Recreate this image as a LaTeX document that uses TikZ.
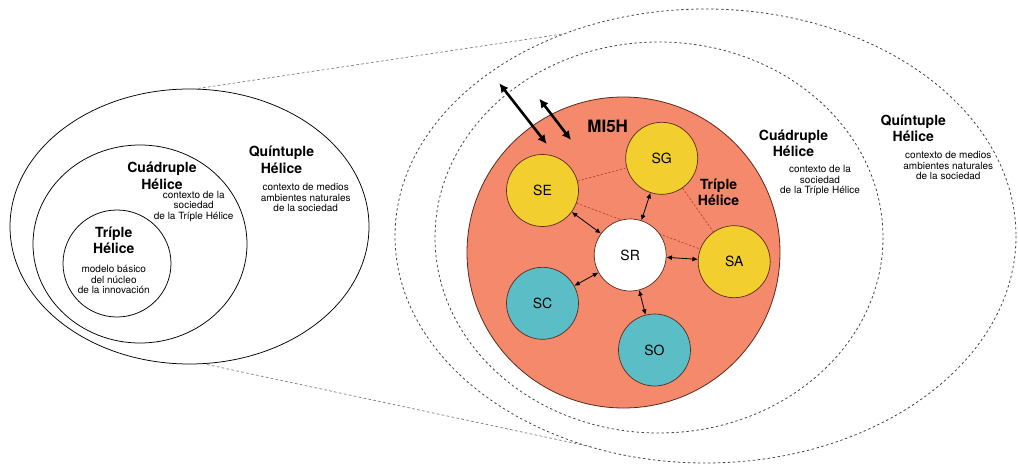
\documentclass[tikz,border=0pt]{standalone}
\usepackage{fontspec}
\setmainfont{TeX Gyre Heros}
\usetikzlibrary{arrows.meta}
\definecolor{mifill}{HTML}{F4896B}
\definecolor{miedge}{HTML}{5A2A1E}
\definecolor{helyellow}{HTML}{F2CF2E}
\definecolor{helteal}{HTML}{5BBEC6}
\definecolor{linkred}{HTML}{B03A2E}
\definecolor{dashgray}{HTML}{444444}
\definecolor{linkgray}{HTML}{7A7A7A}
\pgfdeclarelayer{back}
\pgfdeclarelayer{mid}
\pgfsetlayers{back,mid,main}
\tikzset{
  solidring/.style={draw=black, line width=0.75pt},
  dashring/.style={draw=dashgray, line width=0.8pt, dash pattern=on 2.4pt off 2.6pt},
  zoomline/.style={draw=linkgray, line width=0.7pt, dash pattern=on 2.6pt off 2.4pt},
  subsys/.style={circle, draw=miedge, line width=0.7pt, minimum size=72pt, inner sep=0pt,
    font=\fontsize{14}{16}\selectfont},
  title/.style={align=center, font=\fontsize{14}{16.5}\selectfont\bfseries, inner sep=0pt},
  note/.style={align=center, font=\fontsize{10}{10.5}\selectfont, inner sep=0pt},
  tie/.style={draw=linkred, line width=0.6pt, dash pattern=on 2.2pt off 1.8pt},
  link/.style={draw=black, line width=0.8pt, {Latex[length=5.5pt,width=5pt]}-{Latex[length=5.5pt,width=5pt]}},
  bigarrow/.style={draw=black, line width=2.6pt, {Latex[length=9pt,width=9pt]}-{Latex[length=9pt,width=9pt]}}
}
\begin{document}
\begin{tikzpicture}[x=1pt, y=-1pt]
\useasboundingbox (0,0) rectangle (1018,468);

% ---- nested helix model (left) ----
\draw[solidring] (189.5,226.5) ellipse [x radius=179.5, y radius=137.5];
\draw[solidring] (140,244) ellipse [x radius=107, y radius=99];
\draw[solidring] (117,263.5) ellipse [x radius=54, y radius=53.5];

\node[title] (lq) at (281.5,160) {Quíntuple\\Hélice};
\node[note]  (lqn) at (305.7,197.6) {contexto de medios\\ambientes naturales\\de la sociedad};
\node[title] (lc) at (162,175.7) {Cuádruple\\Hélice};
\node[note]  (lcn) at (193.7,206) {contexto de la\\sociedad\\de la Tríple Hélice};
\node[title] (lt) at (113.8,240.3) {Tríple\\Hélice};
\node[note]  (ltn) at (113.8,279.5) {modelo básico\\del núcleo\\de la innovación};

% ---- zoom connectors ----
\coordinate (zl1) at (198,88.5);
\coordinate (zr1) at (566,33.5);
\coordinate (zl2) at (207,364.5);
\coordinate (zr2) at (592,447);
\draw[zoomline] (zl1) -- (zr1);
\draw[zoomline] (zl2) -- (zr2);

% ---- MI5H model (right) ----
\begin{pgfonlayer}{back}
  \draw[dashring] (705.5,236) ellipse [x radius=310.5, y radius=227];
  \draw[dashring] (659,237.5) ellipse [x radius=224, y radius=195.5];
  \draw[draw=miedge, line width=0.8pt, fill=mifill] (623.5,252.5) ellipse [x radius=156.5, y radius=155.5];
\end{pgfonlayer}

\node[subsys, fill=helyellow] (SE) at (542.5,190.5) {SE};
\node[subsys, fill=helyellow] (SG) at (661.7,158.3) {SG};
\node[subsys, fill=helyellow] (SA) at (734.2,261.7) {SA};
\node[subsys, fill=white]     (SR) at (630.2,255)   {SR};
\node[subsys, fill=helteal]   (SC) at (542.5,303.3) {SC};
\node[subsys, fill=helteal]   (SO) at (654.5,350)   {SO};

\node[font=\fontsize{17}{19}\selectfont\bfseries, inner sep=0pt] (mi) at (607.7,126.7) {MI5H};
\node[title] (rt) at (718.6,192.2) {Tríple\\Hélice};
\node[title] (rc) at (793.5,143.3) {Cuádruple\\Hélice};
\node[note]  (rcn) at (820,180.7) {contexto de la\\sociedad\\de la Tríple Hélice};
\node[title] (rq) at (913.3,128.3) {Quíntuple\\Hélice};
\node[note]  (rqn) at (948.3,165.7) {contexto de medios\\ambientes naturales\\de la sociedad};

\begin{pgfonlayer}{mid}
  \draw[tie] (SE) -- (SG);
  \draw[tie] (SE) -- (SA);
  \draw[tie] (SG) -- (SA);
  \draw[link] (SE) -- (SR);
  \draw[link] (SG) -- (SR);
  \draw[link] (SR) -- (SA);
  \draw[link] (SR) -- (SC);
  \draw[link] (SR) -- (SO);
\end{pgfonlayer}

% exchange with the surrounding contexts
\coordinate (x1a) at (499.3,83.3);
\coordinate (x1b) at (546.7,144);
\coordinate (x2a) at (539.3,98.7);
\coordinate (x2b) at (571,140);
\draw[bigarrow] (x1a) -- (x1b);
\draw[bigarrow] (x2a) -- (x2b);
\end{tikzpicture}
\end{document}
